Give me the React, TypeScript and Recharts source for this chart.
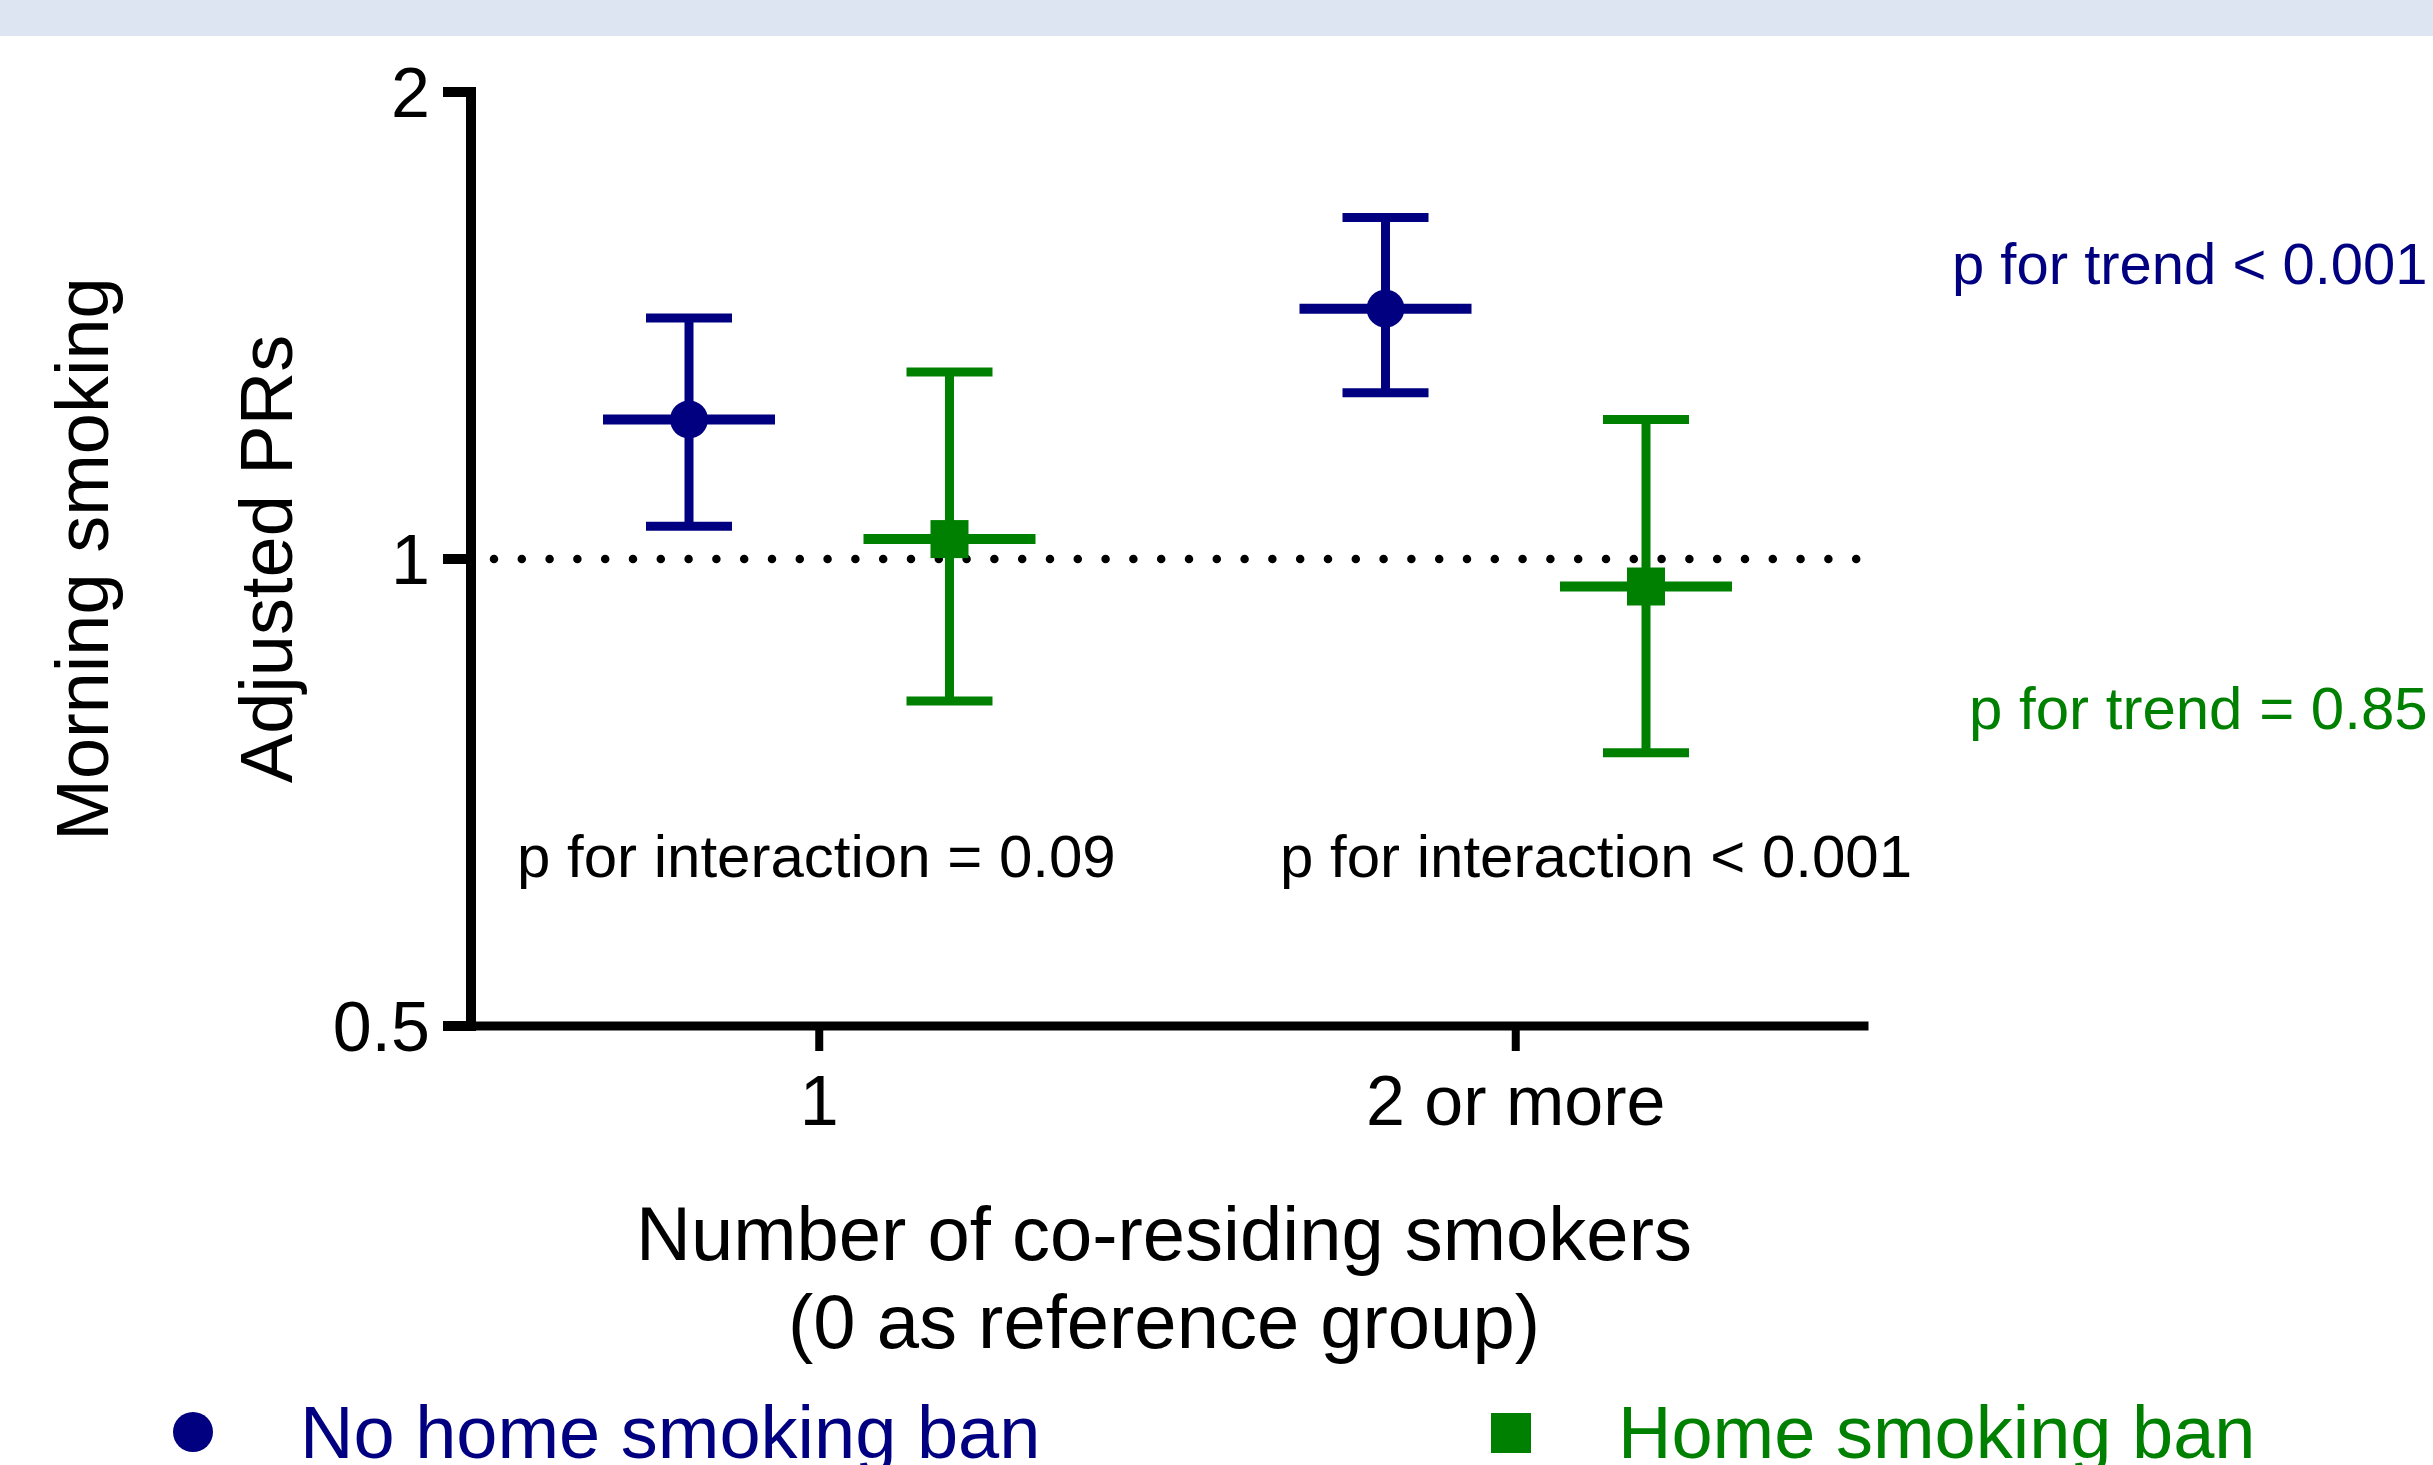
import {
  ErrorBar,
  ReferenceLine,
  Scatter,
  ScatterChart,
  XAxis,
  YAxis,
} from "recharts";

const NAVY = "#000080"; // no ban
const GREEN = "#008000"; // ban
const FONT = "'Liberation Sans', Arial, sans-serif";

const groups = ["1", "2 or more"];
const seriesNames = ["No home smoking ban", "Home smoking ban"];

// adjusted PRs with 95% CI
const noBanPR = [1.23, 1.45];
const noBanLow = [1.05, 1.28];
const noBanHigh = [1.43, 1.66];
const banPR = [1.03, 0.96];
const banLow = [0.81, 0.75];
const banHigh = [1.32, 1.23];

const yTicks = [0.5, 1, 2];
const interactionP = ["p for interaction = 0.09", "p for interaction < 0.001"];
const trendP = ["p for trend < 0.001", "p for trend = 0.85"];

// points are dodged left/right of the group tick
const DODGE = 0.187;

function build(pr: number[], lo: number[], hi: number[], side: number) {
  return pr.map((v, i) => ({
    x: i + 1 + side * DODGE,
    y: v,
    err: [v - lo[i], hi[i] - v],
  }));
}

const noBanData = build(noBanPR, noBanLow, noBanHigh, -1);
const banData = build(banPR, banLow, banHigh, 1);

function markerShape(color: string, kind: "circle" | "square") {
  return (props: any) => {
    const { cx, cy } = props;
    if (cx == null || cy == null) return <g />;
    return (
      <g>
        <line x1={cx - 86} x2={cx + 86} y1={cy} y2={cy} stroke={color} strokeWidth={10} />
        {kind === "circle" ? (
          <circle cx={cx} cy={cy} r={19} fill={color} />
        ) : (
          <rect x={cx - 19} y={cy - 19} width={38} height={38} fill={color} />
        )}
      </g>
    );
  };
}

export default function App() {
  return (
    <div
      style={{
        position: "absolute",
        left: 0,
        top: 0,
        width: 2433,
        height: 1465,
        background: "#fff",
        overflow: "hidden",
        fontFamily: FONT,
      }}
    >
      <div style={{ position: "absolute", left: 0, top: 0, width: 2433, height: 36, background: "#dde4f2" }} />
      <div style={{ position: "absolute", left: 0, top: 0 }}>
        <ScatterChart
          width={2433}
          height={1465}
          margin={{ top: 92, right: 569, bottom: 339, left: 0 }}
        >
          <XAxis
            type="number"
            dataKey="x"
            domain={[0.5, 2.5]}
            ticks={[1, 2]}
            tickFormatter={(v: number) => groups[v - 1] ?? ""}
            height={100}
            axisLine={{ stroke: "#000", strokeWidth: 9, strokeLinecap: "square" }}
            tickLine={{ stroke: "#000", strokeWidth: 8 }}
            tickSize={25}
            tickMargin={24}
            tick={{ fontSize: 70, fill: "#000", fontFamily: FONT }}
          />
          <YAxis
            type="number"
            dataKey="y"
            scale="log"
            domain={[0.5, 2]}
            ticks={yTicks}
            allowDataOverflow
            width={471}
            tickFormatter={(v: number) => String(v)}
            axisLine={{ stroke: "#000", strokeWidth: 10, strokeLinecap: "square" }}
            tickLine={{ stroke: "#000", strokeWidth: 10 }}
            tickSize={28}
            tickMargin={13}
            tick={{ fontSize: 70, fill: "#000", fontFamily: FONT }}
          />
          <ReferenceLine
            y={1}
            stroke="#000"
            strokeWidth={8.5}
            strokeDasharray="0 27.8"
            strokeDashoffset={4.8}
            strokeLinecap="round"
          />
          <Scatter
            name={seriesNames[0]}
            data={noBanData}
            fill={NAVY}
            shape={markerShape(NAVY, "circle")}
            isAnimationActive={false}
          >
            <ErrorBar dataKey="err" direction="y" width={43} stroke={NAVY} strokeWidth={9} />
          </Scatter>
          <Scatter
            name={seriesNames[1]}
            data={banData}
            fill={GREEN}
            shape={markerShape(GREEN, "square")}
            isAnimationActive={false}
          >
            <ErrorBar dataKey="err" direction="y" width={43} stroke={GREEN} strokeWidth={9} />
          </Scatter>
        </ScatterChart>
      </div>
      <svg
        width={2433}
        height={1465}
        style={{ position: "absolute", left: 0, top: 0, pointerEvents: "none" }}
        fontFamily={FONT}
      >
        <text x={108} y={559} fontSize={74} textAnchor="middle" transform="rotate(-90 108 559)">
          Morning smoking
        </text>
        <text x={292} y={559} fontSize={74} textAnchor="middle" transform="rotate(-90 292 559)">
          Adjusted PRs
        </text>
        <text x={517} y={877} fontSize={60}>{interactionP[0]}</text>
        <text x={1280} y={877} fontSize={60}>{interactionP[1]}</text>
        <text x={1952} y={284} fontSize={58} fill={NAVY}>{trendP[0]}</text>
        <text x={1969} y={729} fontSize={60} fill={GREEN}>{trendP[1]}</text>
        <text x={1164} y={1260} fontSize={76} textAnchor="middle">
          Number of co-residing smokers
        </text>
        <text x={1164} y={1348} fontSize={76} textAnchor="middle">
          (0 as reference group)
        </text>
        <circle cx={193} cy={1432} r={20} fill={NAVY} />
        <text x={300} y={1458} fontSize={74} fill={NAVY}>{seriesNames[0]}</text>
        <rect x={1491} y={1413} width={40} height={40} fill={GREEN} />
        <text x={1618} y={1458} fontSize={74} fill={GREEN}>{seriesNames[1]}</text>
      </svg>
    </div>
  );
}
